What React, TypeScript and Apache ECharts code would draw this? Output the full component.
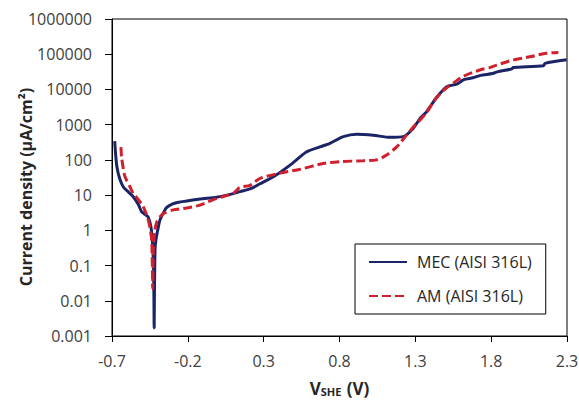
import React, { useEffect, useRef } from "react";
import * as echarts from "echarts";

// MEC (AISI 316L): potential V vs SHE, current density µA/cm²
const mecV = [-0.682, -0.676, -0.668, -0.65, -0.625, -0.59, -0.56, -0.527, -0.505, -0.49, -0.462, -0.44, -0.428, -0.424, -0.422, -0.42, -0.416, -0.41, -0.397, -0.384, -0.36, -0.339, -0.3, -0.26, -0.207, -0.12, -0.01, 0.1, 0.144, 0.21, 0.276, 0.364, 0.474, 0.584, 0.671, 0.737, 0.825, 0.913, 1.023, 1.133, 1.221, 1.287, 1.331, 1.375, 1.441, 1.507, 1.573, 1.62, 1.68, 1.73, 1.81, 1.84, 1.935, 1.946, 2.144, 2.155, 2.298];
const mecI = [340, 140, 65, 30, 17, 12, 9, 5.5, 3.4, 3.0, 2.4, 1.0, 0.18, 0.02, 0.0017, 0.02, 0.3, 0.55, 1.1, 1.95, 3.2, 4.5, 5.6, 6.3, 6.8, 7.8, 8.7, 11, 12.6, 15, 21, 33, 71, 170, 234, 295, 457, 537, 501, 436, 457, 794, 1500, 2344, 6000, 12000, 14100, 19000, 21400, 25100, 28200, 31600, 38000, 41700, 46800, 55000, 69200];

// AM (AISI 316L)
const amV = [-0.641, -0.637, -0.625, -0.614, -0.581, -0.56, -0.537, -0.494, -0.461, -0.445, -0.438, -0.434, -0.432, -0.43, -0.428, -0.424, -0.418, -0.405, -0.384, -0.362, -0.296, -0.207, -0.12, -0.01, 0.1, 0.144, 0.21, 0.276, 0.408, 0.54, 0.693, 0.803, 0.957, 1.045, 1.111, 1.177, 1.243, 1.309, 1.331, 1.375, 1.419, 1.463, 1.507, 1.573, 1.62, 1.73, 1.79, 1.836, 1.946, 2.056, 2.166, 2.243];
const amI = [230, 120, 55, 33, 17, 11, 8.5, 4.7, 2.0, 0.9, 0.5, 0.1, 0.022, 0.08, 0.25, 0.55, 1.0, 1.7, 2.4, 3.0, 3.8, 4.3, 5.2, 8.1, 11.2, 16.6, 19, 30, 42, 54, 79, 89, 95, 100, 138, 234, 513, 1100, 1350, 2240, 4470, 7600, 11200, 17800, 24000, 36300, 41700, 49000, 69000, 85000, 107000, 112000];

const seriesNames = ["MEC (AISI 316L)", "AM (AISI 316L)"];
const xTickLabels = ["-0.7", "-0.2", "0.3", "0.8", "1.3", "1.8", "2.3"];
const yTickLabels = ["0.001", "0.01", "0.1", "1", "10", "100", "1000", "10000", "100000", "1000000"];
const yAxisTitle = "Current density (µA/cm²)";

const FONT = "Open Sans";

export default function App() {
  const ref = useRef<HTMLDivElement>(null);
  useEffect(() => {
    if (!ref.current) return;
    const chart = echarts.init(ref.current, undefined, { renderer: "svg" });
    const mecData = mecV.map((v, i) => [v, mecI[i]]);
    const amData = amV.map((v, i) => [v, amI[i]]);
    chart.setOption({
      animation: false,
      backgroundColor: "#fff",
      textStyle: { fontFamily: FONT },
      grid: {
        left: 112,
        top: 19,
        right: 12,
        bottom: 67,
        containLabel: false,
        outerBoundsMode: "none",
        show: true,
        borderColor: "#000",
        borderWidth: 1,
        backgroundColor: "transparent",
      },
      graphic: [
        {
          type: "text",
          x: 26,
          y: 187,
          rotation: Math.PI / 2,
          style: {
            text: yAxisTitle,
            fontSize: 16,
            fontWeight: "bold",
            fontFamily: FONT,
            fill: "#262626",
            align: "center",
            verticalAlign: "middle",
          },
        },
      ],
      xAxis: {
        type: "value",
        min: -0.7,
        max: 2.3,
        interval: 0.5,
        axisLine: { show: true, onZero: false, lineStyle: { color: "#000", width: 1 } },
        axisTick: { show: true, inside: false, length: 6, lineStyle: { color: "#000", width: 1 } },
        splitLine: { show: false },
        axisLabel: {
          color: "#404040",
          fontSize: 16,
          fontFamily: FONT,
          margin: 17,
          formatter: (v: number) => xTickLabels[Math.round((v + 0.7) / 0.5)] ?? "",
        },
        name: "{v|V}{s|SHE}{v| (V)}",
        nameLocation: "middle",
        nameGap: 44,
        nameTextStyle: {
          rich: {
            v: { fontSize: 17, fontWeight: "bold", color: "#262626", fontFamily: FONT },
            s: { fontSize: 11, fontWeight: "bold", color: "#262626", fontFamily: FONT, verticalAlign: "bottom", padding: [6, 1, 0, 0] },
          },
        },
      },
      yAxis: {
        type: "log",
        logBase: 10,
        min: 0.001,
        max: 1000000,
        axisLine: { show: true, onZero: false, lineStyle: { color: "#000", width: 1 } },
        axisTick: { show: true, inside: false, length: 7, lineStyle: { color: "#000", width: 1 } },
        splitLine: { show: false },
        minorTick: { show: false },
        axisLabel: {
          color: "#404040",
          fontSize: 16,
          fontFamily: FONT,
          margin: 20,
          formatter: (v: number) => yTickLabels[Math.round(Math.log10(v)) + 3] ?? "",
        },
      },
      legend: {
        show: true,
        orient: "vertical",
        left: 355,
        top: 244,
        padding: [10, 14, 10, 13],
        itemGap: 18,
        itemWidth: 38,
        itemHeight: 14,
        borderColor: "#000",
        borderWidth: 1,
        backgroundColor: "#fff",
        itemStyle: { opacity: 0 },
        textStyle: { fontSize: 16, color: "#262626", fontFamily: FONT, padding: [0, 0, 0, 5] },
        data: seriesNames,
      },
      series: [
        {
          name: seriesNames[0],
          type: "line",
          data: mecData,
          showSymbol: false,
          symbol: "none",
          smooth: 0.25,
          clip: true,
          lineStyle: { color: "#1b2466", width: 3 },
          itemStyle: { color: "#1b2466" },
          z: 3,
        },
        {
          name: seriesNames[1],
          type: "line",
          data: amData,
          showSymbol: false,
          symbol: "none",
          smooth: 0.25,
          clip: true,
          lineStyle: { color: "#d0202c", width: 3, type: [9, 4] },
          itemStyle: { color: "#d0202c" },
          z: 4,
        },
      ],
    });
    return () => chart.dispose();
  }, []);
  return (
    <div
      ref={ref}
      style={{ position: "fixed", left: 0, top: 0, width: 579, height: 403, background: "#fff" }}
    />
  );
}
